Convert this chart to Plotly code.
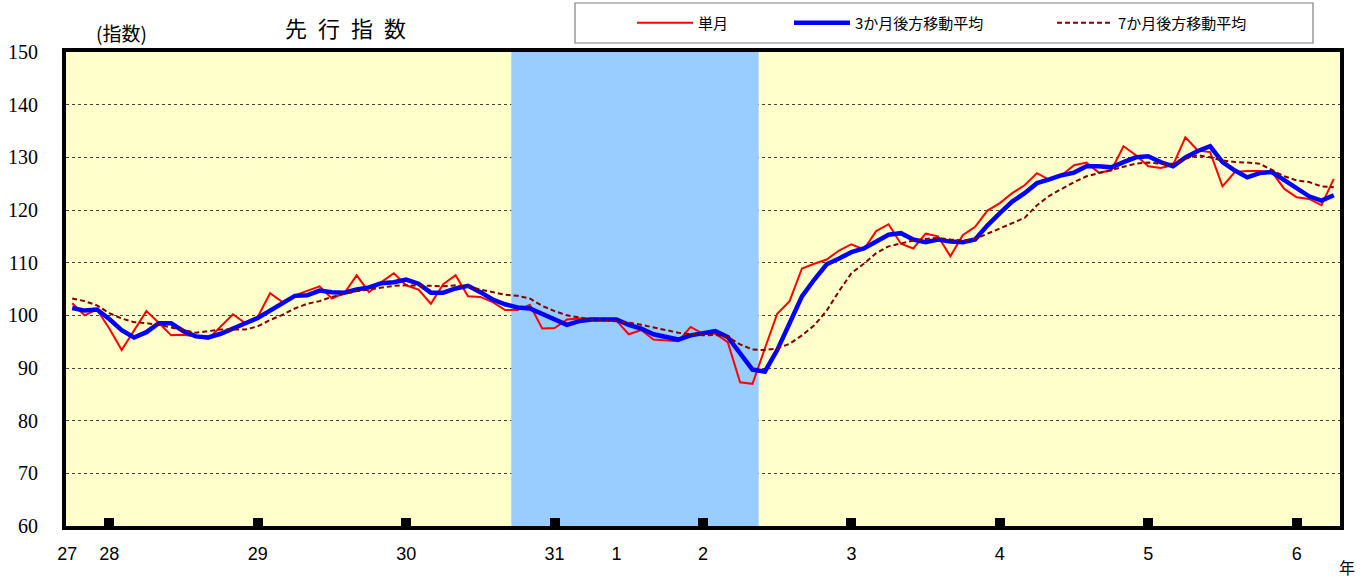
import numpy as np
import pandas as pd
import plotly.graph_objects as go

# ---- data (Oct 2015 - Apr 2024, monthly) ----
months = pd.period_range("2015-10", "2024-04", freq="M")

monthly = [
    102.3, 100.0, 101.1,
    97.5, 93.4, 97.1, 100.8, 98.6, 96.2, 96.3, 96.0, 95.5, 97.8, 100.2, 98.5,
    99.7, 104.2, 102.5, 103.8, 104.6, 105.5, 103.2, 104.2, 107.6, 104.4, 106.3, 108.0,
    105.7, 104.9, 102.2, 105.9, 107.6, 103.6, 103.5, 102.5, 101.0, 101.0, 102.0, 97.5,
    97.6, 99.2, 99.4, 99.4, 99.2, 99.0, 96.4, 97.2, 95.4, 95.3, 95.1, 97.8,
    96.5, 96.5, 94.9, 87.3, 87.0, 93.7, 100.3, 102.7, 108.9, 109.8, 110.6, 112.3,
    113.5, 112.5, 116.0, 117.3, 113.6, 112.7, 115.5, 115.0, 111.2, 115.2, 116.8, 119.9,
    121.3, 123.2, 124.7, 127.0, 125.7, 126.6, 128.5, 129.0, 127.1, 127.5, 132.1, 130.4,
    128.3, 128.0, 128.5, 133.8, 131.3, 131.0, 124.5, 127.2, 127.4, 127.4, 127.2, 124.0,
    122.4, 122.1, 120.9, 125.9,
]

ma3 = [
    101.4, 100.9, 101.1,
    99.3, 97.2, 95.8, 96.8, 98.5, 98.5, 97.0, 96.0, 95.8, 96.5, 97.6, 98.5,
    99.5, 100.9, 102.4, 103.7, 103.8, 104.7, 104.4, 104.3, 104.9, 105.3, 106.1, 106.3,
    106.8, 106.0, 104.3, 104.3, 105.1, 105.6, 104.4, 103.0, 102.1, 101.5, 101.3, 100.2,
    99.2, 98.2, 98.9, 99.2, 99.2, 99.2, 98.2, 97.5, 96.4, 95.9, 95.4, 96.2,
    96.5, 97.0, 95.9, 92.8, 89.7, 89.3, 93.4, 98.5, 103.6, 106.8, 109.7, 110.8,
    112.0, 112.7, 114.1, 115.3, 115.6, 114.4, 113.9, 114.4, 114.0, 113.9, 114.4, 117.1,
    119.4, 121.6, 123.2, 125.1, 125.8, 126.6, 127.1, 128.3, 128.3, 128.1, 129.1, 130.0,
    130.2, 129.1, 128.3, 130.0, 131.2, 132.1, 129.1, 127.5, 126.2, 127.0, 127.2, 125.6,
    124.0, 122.6, 121.8, 122.8,
]

ma7 = [
    103.2, 102.7, 101.9,
    100.4, 99.4, 98.7, 98.5, 98.2, 97.7, 97.2, 96.7, 97.0, 97.3, 97.3, 97.3,
    97.9, 99.1, 100.1, 101.3, 102.2, 102.7, 103.5, 104.1, 104.6, 104.9, 105.2, 105.6,
    105.7, 105.7, 105.6, 105.5, 105.7, 105.4, 104.9, 104.3, 103.9, 103.7, 103.2, 101.8,
    100.8, 100.0, 99.6, 99.2, 99.1, 98.9, 98.6, 98.2, 97.7, 97.2, 96.7, 96.4,
    96.2, 96.3, 95.9, 94.5, 93.5, 93.4, 93.7, 94.6, 96.2, 98.1, 100.9, 104.6,
    108.0, 109.8, 111.8, 113.1, 113.7, 114.2, 114.5, 114.7, 114.4, 114.2, 114.5, 115.5,
    116.5, 117.4, 118.5, 120.9, 122.7, 124.0, 125.3, 126.4, 127.0, 127.5, 128.1, 128.8,
    129.0, 128.8, 128.8, 129.7, 130.4, 130.0, 129.4, 129.1, 129.0, 128.8, 127.6, 126.4,
    125.6, 125.3, 124.5, 124.3,
]

# recession period (peak to trough)
shade_start = "2018-10"
shade_end = "2020-05"

names = ["単月", "3か月後方移動平均", "7か月後方移動平均"]

# ---- positions / ticks derived from the month list ----
pos = np.arange(len(months))
month_str = [str(p) for p in months]
jan_idx = [i for i, p in enumerate(months) if p.month == 1]
tick_vals = [-0.4] + jan_idx[:4] + [month_str.index("2019-06")] + jan_idx[4:]
tick_text = ["27", "28", "29", "30", "31", "1", "2", "3", "4", "5", "6"]

L, R, T, B = 66, 29, 52, 53
W, H = 1369, 579
pw, ph = W - L - R, H - T - B

def px_x(x):
    return (x - L) / pw

def px_y(y):
    return (H - B - y) / ph

fig = go.Figure()
fig.add_trace(go.Scatter(x=pos, y=monthly, mode="lines", name=names[0],
                         line=dict(color="#FF0000", width=2), legend="legend"))
fig.add_trace(go.Scatter(x=pos, y=ma3, mode="lines", name=names[1],
                         line=dict(color="#0000FF", width=4.5), legend="legend2"))
fig.add_trace(go.Scatter(x=pos, y=ma7, mode="lines", name=names[2],
                         line=dict(color="#800000", width=2, dash="5px,3px"), legend="legend3"))
fig.add_trace(go.Scatter(x=[], y=[], xaxis="x2", showlegend=False, hoverinfo="skip"))

s0 = month_str.index(shade_start) - 0.5
s1 = month_str.index(shade_end) + 0.5
fig.add_shape(type="rect", xref="x", yref="y", x0=s0, x1=s1, y0=60, y1=150,
              fillcolor="#99CCFF", line=dict(width=0), layer="between")

# legend frame
fig.add_shape(type="rect", xref="paper", yref="paper",
              x0=px_x(575), x1=px_x(1313), y0=px_y(43), y1=px_y(3),
              fillcolor="white", line=dict(color="#808080", width=1.2), layer="above")

xr = [-0.5, len(months) - 0.5]
leg_common = dict(orientation="h", bgcolor="rgba(0,0,0,0)", borderwidth=0,
                  yanchor="middle", y=px_y(23), xanchor="left",
                  font=dict(family="Liberation Sans Narrow, Noto Sans CJK JP", size=15, color="black"),
                  itemwidth=56)

fig.update_layout(
    width=W, height=H,
    margin=dict(l=L, r=R, t=T, b=B, autoexpand=False),
    paper_bgcolor="white",
    plot_bgcolor="#FFFFCC",
    showlegend=True,
    legend=dict(leg_common, x=px_x(632)),
    legend2=dict(leg_common, x=px_x(789)),
    legend3=dict(leg_common, x=px_x(1052)),
    xaxis=dict(range=xr, tickmode="array", tickvals=tick_vals, ticktext=tick_text,
               ticks="", showgrid=False, zeroline=False,
               showline=True, linewidth=4, linecolor="black", mirror=True,
               ticklabelstandoff=8,
               tickfont=dict(family="Liberation Sans Narrow, Liberation Sans", size=18, color="black")),
    xaxis2=dict(range=xr, overlaying="x", anchor="y", side="bottom",
                tickmode="array", tickvals=jan_idx, showticklabels=False,
                ticks="inside", ticklen=8, tickwidth=10, tickcolor="black",
                showgrid=False, zeroline=False, showline=False),
    yaxis=dict(range=[60, 150], tickmode="array", tickvals=list(range(60, 151, 10)),
               showgrid=True, gridcolor="#404040", griddash="dot", gridwidth=1,
               zeroline=False, ticks="",
               showline=True, linewidth=4, linecolor="black", mirror=True,
               ticklabelstandoff=20,
               tickfont=dict(family="Liberation Serif, DejaVu Serif, serif", size=20, color="black")),
    annotations=[
        dict(text="先\u2002行\u2002指\u2002数", xref="paper", yref="paper", x=px_x(345), y=px_y(27),
             xanchor="center", yanchor="middle",
             showarrow=False, font=dict(family="Noto Sans CJK JP", size=22, color="black")),
        dict(text="(指数)", xref="paper", yref="paper", x=px_x(121), y=px_y(33),
             xanchor="center", yanchor="middle",
             showarrow=False, font=dict(family="Noto Sans CJK JP", size=19, color="black")),
        dict(text="年", xref="paper", yref="paper", x=px_x(1347), y=px_y(567),
             xanchor="center", yanchor="middle",
             showarrow=False, font=dict(family="Noto Sans CJK JP", size=16, color="black")),
    ],
)

fig.write_html("out.html", config={"displayModeBar": False},
               post_script="document.body.style.margin='0';document.body.style.overflow='hidden';")
